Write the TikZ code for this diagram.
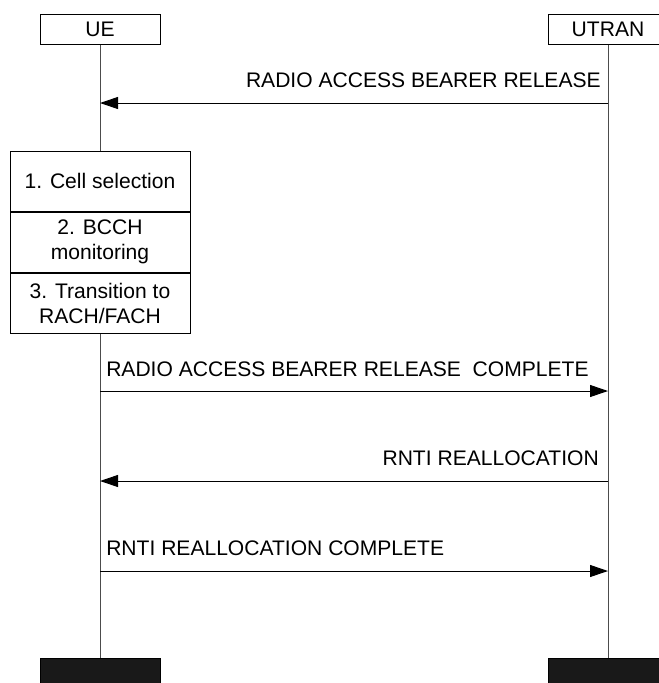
\documentclass[tikz,border=0pt]{standalone}
\usepackage{fontspec}
\setmainfont{Liberation Sans}
\usetikzlibrary{arrows.meta,positioning}

\begin{document}
\begin{tikzpicture}[x=0.75pt,y=-0.75pt,
    txt/.style={font=\fontsize{15.8}{18.75}\selectfont},
    entity/.style={txt, draw, line width=0.75pt, minimum width=90pt, minimum height=22.5pt, inner sep=0pt},
    endbox/.style={draw, fill=black!90, minimum width=90pt, minimum height=22.5pt, inner sep=0pt},
    action/.style={txt, draw, fill=white, line width=0.75pt, minimum width=135pt, minimum height=45pt, inner sep=0pt, align=center},
    msg/.style={line width=0.75pt, -{Triangle[length=13.5pt,width=9pt]}},
    lbl/.style={txt, inner sep=0pt}]
    \useasboundingbox (0,0) rectangle (658,683);

    % Entities
    \node[entity] (ue) at (100,29) {UE};
    \node[entity] (utran) at (608,29) {UTRAN};
    \node[endbox] (ueEnd) at (100,673) {};
    \node[endbox] (utranEnd) at (608,673) {};

    % Lifelines
    \draw[black!70, line width=0.75pt] (ue) -- (ueEnd);
    \draw[black!70, line width=0.75pt] (utran) -- (utranEnd);

    % Message levels
    \foreach \n/\y in {1/103, 2/391, 3/481, 4/571} {
        \coordinate (ue\n) at (100,\y);
        \coordinate (utran\n) at (608,\y);
    }

    % Local actions in the UE
    \node[action] (cell) at (100,181) {1. Cell selection};
    \node[action, below=0pt of cell] (bcch) {2. BCCH\\monitoring};
    \node[action, below=0pt of bcch] (trans) {3. Transition to\\RACH/FACH};

    % Messages
    \draw[msg] (utran1) -- (ue1);
    \node[lbl, anchor=east] (rabRel) at (601,80) {RADIO ACCESS BEARER RELEASE};

    \draw[msg] (ue2) -- (utran2);
    \node[lbl, anchor=west] (rabComp) at (106,369) {RADIO ACCESS BEARER RELEASE~ COMPLETE};

    \draw[msg] (utran3) -- (ue3);
    \node[lbl, anchor=east] (rntiRe) at (599,458) {RNTI REALLOCATION};

    \draw[msg] (ue4) -- (utran4);
    \node[lbl, anchor=west] (rntiComp) at (106,548) {RNTI REALLOCATION COMPLETE};

\end{tikzpicture}
\end{document}
